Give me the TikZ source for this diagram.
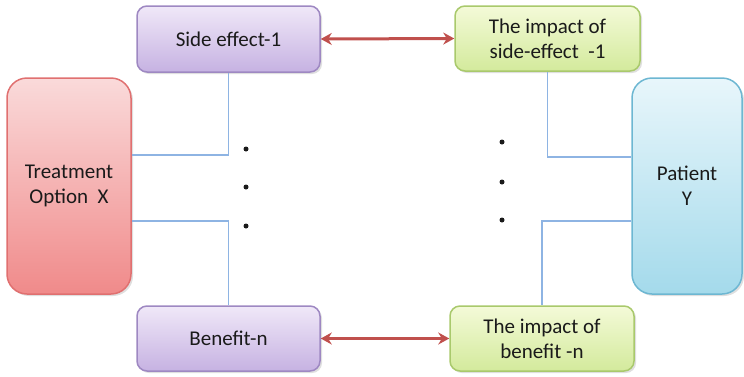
\documentclass[tikz,border=0pt]{standalone}
\usepackage{fontspec}
\setmainfont{Carlito}
\usetikzlibrary{arrows.meta,shadows}
\definecolor{redfill1}{HTML}{FADADA}
\definecolor{redfill2}{HTML}{F08A8A}
\definecolor{redline}{HTML}{E07070}
\definecolor{purp1}{HTML}{F0E8F8}
\definecolor{purp2}{HTML}{C6B2E2}
\definecolor{purpline}{HTML}{9E88C2}
\definecolor{grn1}{HTML}{F4FAD8}
\definecolor{grn2}{HTML}{D3EA9C}
\definecolor{grnline}{HTML}{A9C96C}
\definecolor{blu1}{HTML}{E8F6FB}
\definecolor{blu2}{HTML}{A4DAEB}
\definecolor{bluline}{HTML}{6DB7D2}
\definecolor{arrowred}{HTML}{C0504D}
\definecolor{conn}{HTML}{8EB4E3}
\definecolor{txt}{HTML}{1A1A1A}
\tikzset{
  box/.style={rectangle, draw, line width=1.5pt, align=center, text=txt,
    font=\fontsize{21}{25}\selectfont, inner sep=2pt,
    drop shadow={shadow xshift=2pt, shadow yshift=-2pt, opacity=0.25}},
  redbox/.style={box, draw=redline, top color=redfill1, bottom color=redfill2, rounded corners=20pt},
  purpbox/.style={box, draw=purpline, top color=purp1, bottom color=purp2, rounded corners=10pt},
  grnbox/.style={box, draw=grnline, top color=grn1, bottom color=grn2, rounded corners=10pt},
  blubox/.style={box, draw=bluline, top color=blu1, bottom color=blu2, rounded corners=20pt},
  link/.style={draw=conn, line width=1.6pt},
  dbl/.style={draw=arrowred, line width=3pt, {Stealth[length=11pt,width=12pt]}-{Stealth[length=11pt,width=12pt]}},
  dotnode/.style={circle, fill=txt, minimum size=5pt, inner sep=0pt}
}
\begin{document}
\begin{tikzpicture}[x=1pt,y=-1pt]
\useasboundingbox (0,0) rectangle (744,376);
\node[redbox, minimum width=124pt, minimum height=216pt] (treat) at (69,186) {Treatment\\Option~~X};
\node[blubox, minimum width=110pt, minimum height=216pt] (pat) at (687,186) {Patient\\Y};
\node[purpbox, minimum width=183pt, minimum height=66pt] (se) at (228.5,39) {Side effect-1};
\node[grnbox, minimum width=185pt, minimum height=65pt] (ise) at (547.5,38.5) {The impact of\\side-effect~~-1};
\node[purpbox, minimum width=183pt, minimum height=65pt] (ben) at (228.5,338.5) {Benefit-n};
\node[grnbox, minimum width=184pt, minimum height=65pt] (iben) at (542,338.5) {The impact of\\benefit -n};
\draw[link] (se.south) |- ([yshift=31pt]treat.east);
\draw[link] ([yshift=-35pt]treat.east) -| (ben.north);
\draw[link] (ise.south) |- ([yshift=29pt]pat.west);
\draw[link] ([yshift=-35pt]pat.west) -| (iben.north);
\draw[dbl] (se.east) -- (ise.west);
\draw[dbl] (ben.east) -- (iben.west);
\node[dotnode] (l1) at (246,149) {};
\node[dotnode] (l2) at (246,187) {};
\node[dotnode] (l3) at (246,226) {};
\node[dotnode] (r1) at (502,142) {};
\node[dotnode] (r2) at (502,182) {};
\node[dotnode] (r3) at (502,220) {};
\end{tikzpicture}
\end{document}
